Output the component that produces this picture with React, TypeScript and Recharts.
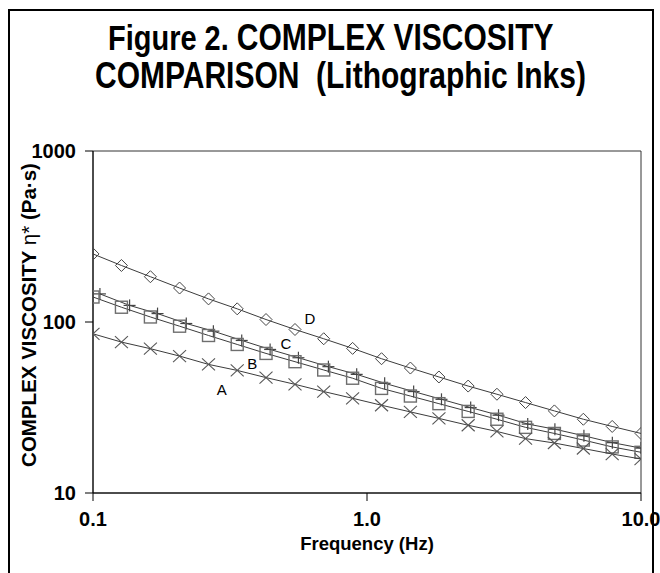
import React from 'react';
import { ScatterChart, Scatter, XAxis, YAxis, ReferenceArea, ReferenceDot } from 'recharts';

const FREQ = [0.1, 0.127, 0.162, 0.207, 0.264, 0.336, 0.428, 0.546, 0.695, 0.886, 1.13, 1.44, 1.83, 2.34, 2.98, 3.79, 4.83, 6.16, 7.85, 10];
const FREQ_C = [0.106, 0.136, 0.172, 0.219, 0.275, 0.349, 0.443, 0.562, 0.723, 0.917, 1.16, 1.48, 1.87, 2.39, 3.02, 3.86, 4.85, 6.19, 7.86, 10];
const VISC_A = [85.3, 76.3, 69.8, 63.2, 56.5, 52.1, 47.3, 43.2, 39.2, 35.8, 32.6, 29.8, 27.3, 24.9, 22.9, 20.8, 19.6, 18.2, 16.9, 15.8];
const VISC_B = [140, 122, 107, 94.5, 83.4, 73.9, 65.5, 58.6, 52.4, 46.9, 40.9, 36.9, 33.3, 30.0, 27.0, 24.2, 22.3, 20.4, 18.6, 17.3];
const VISC_C = [146, 125, 112, 98, 88.4, 78.0, 69.1, 61.8, 54.8, 49.4, 43.8, 39.2, 35.3, 31.6, 28.5, 25.3, 23.6, 21.6, 19.7, 18.3];
const VISC_D = [250, 214, 184, 158, 136.5, 119.4, 103.4, 90.4, 79.8, 70.1, 61.0, 53.8, 47.7, 42.2, 37.8, 33.8, 30.2, 27.0, 24.5, 22.3];

const X_TICKS = [0.1, 1, 10];
const X_TICK_LABELS = ['0.1', '1.0', '10.0'];
const Y_TICKS = [10, 100, 1000];

const SERIES_LABELS = ['A', 'B', 'C', 'D'];
const LABEL_F = [0.295, 0.3815, 0.506, 0.619];
const LABEL_V = [40.0, 57.3, 74.6, 105.2];

const TITLE_1A = 'Figure 2. ';
const TITLE_1B = 'COMPLEX VISCOSITY';
const TITLE_2 = 'COMPARISON  (Lithographic Inks)';
const X_TITLE = 'Frequency (Hz)';

const FONT = "'Liberation Sans', Arial, sans-serif";

const toPts = (fs: number[], vs: number[]) => fs.map((f, i) => ({ f, v: vs[i] }));

const dataA = toPts(FREQ, VISC_A);
const dataB = toPts(FREQ, VISC_B);
const dataC = toPts(FREQ_C, VISC_C);
const dataD = toPts(FREQ, VISC_D);

const Diamond = (p: any) => {
  const { cx, cy } = p;
  return (
    <path d={`M${cx},${cy - 6}L${cx + 6},${cy}L${cx},${cy + 6}L${cx - 6},${cy}Z`} fill="none" stroke="#444" strokeWidth={1} />
  );
};
const Square = (p: any) => {
  const { cx, cy } = p;
  return <rect x={cx - 6} y={cy - 6} width={12} height={12} fill="none" stroke="#6e6e6e" strokeWidth={1.4} />;
};
const Plus = (p: any) => {
  const { cx, cy } = p;
  return (
    <g stroke="#444" strokeWidth={1.2}>
      <line x1={cx - 6} y1={cy} x2={cx + 6} y2={cy} />
      <line x1={cx} y1={cy - 6} x2={cx} y2={cy + 6} />
    </g>
  );
};
const Cross = (p: any) => {
  const { cx, cy } = p;
  return (
    <g stroke="#555" strokeWidth={1.1}>
      <line x1={cx - 6.5} y1={cy - 6} x2={cx + 6.5} y2={cy + 6} />
      <line x1={cx - 6.5} y1={cy + 6} x2={cx + 6.5} y2={cy - 6} />
    </g>
  );
};

const lineStyle = { stroke: '#3c3c3c', strokeWidth: 1 };
const tickStyle = { fill: '#000', fontSize: 20, fontWeight: 'bold' as const, fontFamily: FONT };

export default function App() {
  return (
    <div style={{ position: 'absolute', left: 0, top: 0, width: 660, height: 573, background: '#fff', overflow: 'hidden' }}>
      <div style={{ position: 'absolute', left: 0, top: 0 }}>
        <ScatterChart width={660} height={573} margin={{ top: 151, right: 19, bottom: 0, left: 0 }}>
          <XAxis
            dataKey="f"
            type="number"
            scale="log"
            domain={[0.1, 10]}
            ticks={X_TICKS}
            interval={0}
            allowDataOverflow
            tickFormatter={(v: number) => X_TICK_LABELS[X_TICKS.indexOf(v)] ?? String(v)}
            height={80}
            tickSize={8}
            tickMargin={11}
            stroke="#000"
            tick={tickStyle}
          />
          <YAxis
            dataKey="v"
            type="number"
            scale="log"
            domain={[10, 1000]}
            ticks={Y_TICKS}
            interval={0}
            allowDataOverflow
            width={93}
            tickSize={8}
            tickMargin={9}
            stroke="#000"
            tick={tickStyle}
          />
          <ReferenceArea x1={0.1} x2={10} y1={10} y2={1000} fill="none" stroke="#333" strokeWidth={1} fillOpacity={0} />
          <Scatter name="D" data={dataD} shape={Diamond} line={lineStyle} lineType="joint" isAnimationActive={false} />
          <Scatter name="C" data={dataC} shape={Plus} line={lineStyle} lineType="joint" isAnimationActive={false} />
          <Scatter name="B" data={dataB} shape={Square} line={lineStyle} lineType="joint" isAnimationActive={false} />
          <Scatter name="A" data={dataA} shape={Cross} line={lineStyle} lineType="joint" isAnimationActive={false} />
          {SERIES_LABELS.map((s, i) => (
            <ReferenceDot
              key={s}
              x={LABEL_F[i]}
              y={LABEL_V[i]}
              r={0}
              fill="none"
              stroke="none"
              label={{ value: s, position: 'center', fill: '#000', fontSize: 15, fontFamily: FONT }}
            />
          ))}
        </ScatterChart>
      </div>
      <svg width={660} height={573} style={{ position: 'absolute', left: 0, top: 0, pointerEvents: 'none' }}>
        <rect x={9} y={10} width={644} height={700} fill="none" stroke="#000" strokeWidth={2} />
        <text transform="translate(108,50) scale(1,1.22)" fontFamily={FONT} fontWeight="bold" fontSize={30} fill="#000" style={{ whiteSpace: 'pre' }}>
          <tspan fontSize={29}>{TITLE_1A}</tspan>
          {TITLE_1B}
        </text>
        <text transform="translate(95,88) scale(1,1.22)" fontFamily={FONT} fontWeight="bold" fontSize={30} fill="#000" style={{ whiteSpace: 'pre' }}>
          {TITLE_2}
        </text>
        <text x={367} y={550} textAnchor="middle" fontFamily={FONT} fontWeight="bold" fontSize={18.5} fill="#000">
          {X_TITLE}
        </text>
        <text transform="translate(36,315) rotate(-90)" textAnchor="middle" fontFamily={FONT} fontWeight="bold" fontSize={20.5} fill="#000" style={{ whiteSpace: 'pre' }}>
          {'COMPLEX VISCOSITY '}
          <tspan fontWeight="normal">{'η*'}</tspan>
          {' (Pa·s)'}
        </text>
      </svg>
    </div>
  );
}
